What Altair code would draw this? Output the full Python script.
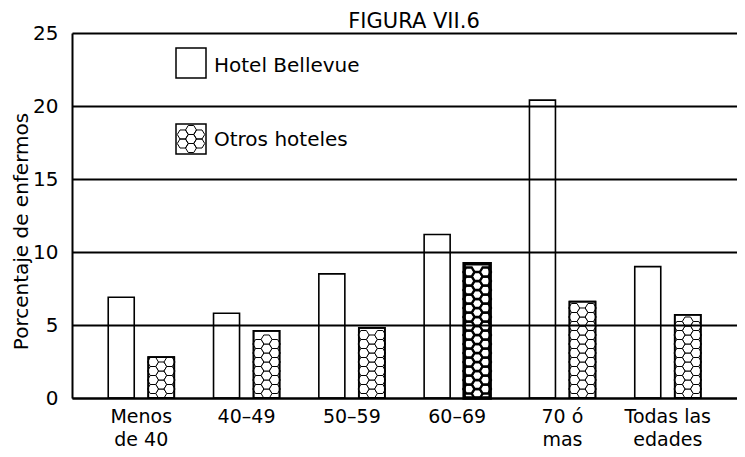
import altair as alt
import pandas as pd

# ---------------- data ----------------
categories = ["Menos de 40", "40–49", "50–59", "60–69", "70 ó mas", "Todas las edades"]
series = ["Hotel Bellevue", "Otros hoteles"]
bellevue = [6.9, 5.8, 8.5, 11.2, 20.4, 9.0]
otros = [2.8, 4.6, 4.8, 9.2, 6.6, 5.7]
y_ticks = [0, 5, 10, 15, 20, 25]
label_lines = {
    "Menos de 40": ["Menos", "de 40"],
    "70 ó mas": ["70 ó", "mas"],
    "Todas las edades": ["Todas las", "edades"],
}
heavy_ink = ["60–69"]   # the darkly printed "Otros hoteles" bar
title_text = "FIGURA VII.6"
y_title = "Porcentaje de enfermos"

# ---------------- layout / style ----------------
W, H = 665, 365
YMAX = 25
FONT = "DejaVu Sans"
HEX_SIZE = 121          # hex radius 5.5px -> 11px wide, ~9px tall
HEX_H_PX = 9.0


def hex_at(hx, hy):
    return (f"M{hx-1},{hy}L{hx-0.5},{hy-0.82}L{hx+0.5},{hy-0.82}L{hx+1},{hy}"
            f"L{hx+0.5},{hy+0.82}L{hx-0.5},{hy+0.82}Z")


HEX_CENTER = hex_at(0, 0)
HEX_SIDES = hex_at(-1.5, 0) + hex_at(1.5, 0)

bars = pd.DataFrame({
    "category": categories * 2,
    "series": [series[0]] * len(categories) + [series[1]] * len(categories),
    "value": bellevue + otros,
})

# honeycomb pattern inside the "Otros hoteles" bars, derived from their values
hh = HEX_H_PX * YMAX / H
rows = []
for cat, v in zip(categories, otros):
    for kind, start in (("center", hh / 2), ("sides", hh)):
        y = start
        while y + hh / 2 <= v + 1e-9:
            rows.append({"category": cat, "series": series[1], "y": y, "kind": kind})
            y += hh
hexdf = pd.DataFrame(rows)

# label expression for multi-line x labels
expr = "datum.label"
for k, lines in label_lines.items():
    arr = "[" + ",".join("'" + s + "'" for s in lines) + "]"
    expr = f"datum.label == '{k}' ? {arr} : ({expr})"

x_scale = alt.Scale(domain=categories, paddingInner=0.373, paddingOuter=0.344)
xo_scale = alt.Scale(domain=series, paddingInner=0.35, paddingOuter=0)
y_scale = alt.Scale(domain=[0, YMAX], nice=False)

x_axis = alt.Axis(title=None, labelExpr=expr, labelAngle=0, ticks=False, labelPadding=9,
                  labelFont=FONT, labelFontSize=19, labelColor="black", labelLineHeight=23,
                  domainColor="black", domainWidth=2, grid=False, zindex=1)
y_axis = alt.Axis(title=y_title, values=y_ticks, ticks=False, labelPadding=14,
                  labelFont=FONT, labelFontSize=20, labelColor="black",
                  domainColor="black", domainWidth=2, grid=True, gridColor="black",
                  gridWidth=2, gridOpacity=1, zindex=1,
                  titleFont=FONT, titleFontSize=20, titleFontWeight="normal",
                  titleColor="black", titleAngle=270, titleX=-45, titleY=198,
                  titleBaseline="alphabetic", titleAlign="center")


def xenc():
    return alt.X("category:N", sort=categories, scale=x_scale, axis=x_axis)


def xoenc():
    return alt.XOffset("series:N", sort=series, scale=xo_scale)


def yenc(field):
    return alt.Y(f"{field}:Q", scale=y_scale, axis=y_axis)


is_heavy = alt.FieldOneOfPredicate(field="category", oneOf=heavy_ink)

bar_layer = alt.Chart(bars).mark_bar(fill="white", stroke="black", strokeWidth=1.6).encode(
    x=xenc(), xOffset=xoenc(), y=yenc("value")
)

hex_layers = []
for kind, path in (("center", HEX_CENTER), ("sides", HEX_SIDES)):
    hex_layers.append(
        alt.Chart(hexdf).transform_filter(alt.datum.kind == kind).mark_point(
            shape=path, size=HEX_SIZE, filled=True, fill="white", stroke="black", opacity=1
        ).encode(
            x=xenc(), xOffset=xoenc(), y=yenc("y"),
            strokeWidth=alt.condition(is_heavy, alt.value(2.4), alt.value(1)),
        )
    )

outline_layer = alt.Chart(bars).transform_filter(alt.datum.series == series[1]).mark_bar(
    fillOpacity=0, stroke="black"
).encode(
    x=xenc(), xOffset=xoenc(), y=yenc("value"),
    strokeWidth=alt.condition(is_heavy, alt.value(3.5), alt.value(1.8)),
)

# ---------------- hand-made legend ----------------
LEG_X, LEG_Y, SYM, ROW_STEP = 104, 15, 30, 76
legend_layers = []
for i, name in enumerate(series):
    cx = LEG_X + SYM / 2
    cy = LEG_Y + SYM / 2 + i * ROW_STEP
    d = pd.DataFrame({"series": [name]})
    legend_layers.append(
        alt.Chart(d).mark_square(size=SYM * SYM, fill="white", stroke="black",
                                 strokeWidth=1.5, opacity=1, cornerRadius=2)
        .encode(x=alt.value(cx), y=alt.value(cy))
    )
    legend_layers.append(
        alt.Chart(d).mark_text(align="left", baseline="middle", font=FONT, fontSize=20,
                               color="black", dy=3 if i == 0 else 1)
        .encode(x=alt.value(LEG_X + SYM + 8), y=alt.value(cy), text="series:N")
    )
    if i == 1:
        path = "".join(hex_at(hx, hy) for hx, hy in
                       [(-1.5, -0.82), (-1.5, 0.82), (0, -1.64), (0, 0), (0, 1.64),
                        (1.5, -0.82), (1.5, 0.82)])
        legend_layers.append(
            alt.Chart(d).mark_point(shape=path, size=HEX_SIZE, filled=True,
                                    fill="white", stroke="black", strokeWidth=1, opacity=1)
            .encode(x=alt.value(cx), y=alt.value(cy))
        )

# title as a text mark above the plot
title_layer = alt.Chart(pd.DataFrame({"t": [title_text]})).mark_text(
    align="center", baseline="alphabetic", font=FONT, fontSize=21, color="black"
).encode(x=alt.value(342), y=alt.value(-5), text="t:N")

chart = alt.layer(bar_layer, *hex_layers, outline_layer, *legend_layers, title_layer).properties(
    width=W,
    height=H,
    autosize=alt.AutoSizeParams(type="none"),
    padding={"left": 64, "top": 25, "right": 0, "bottom": 51},
).configure_view(stroke=None).configure(background="white")

chart.save("out.html", embed_options={"renderer": "svg", "actions": False})
